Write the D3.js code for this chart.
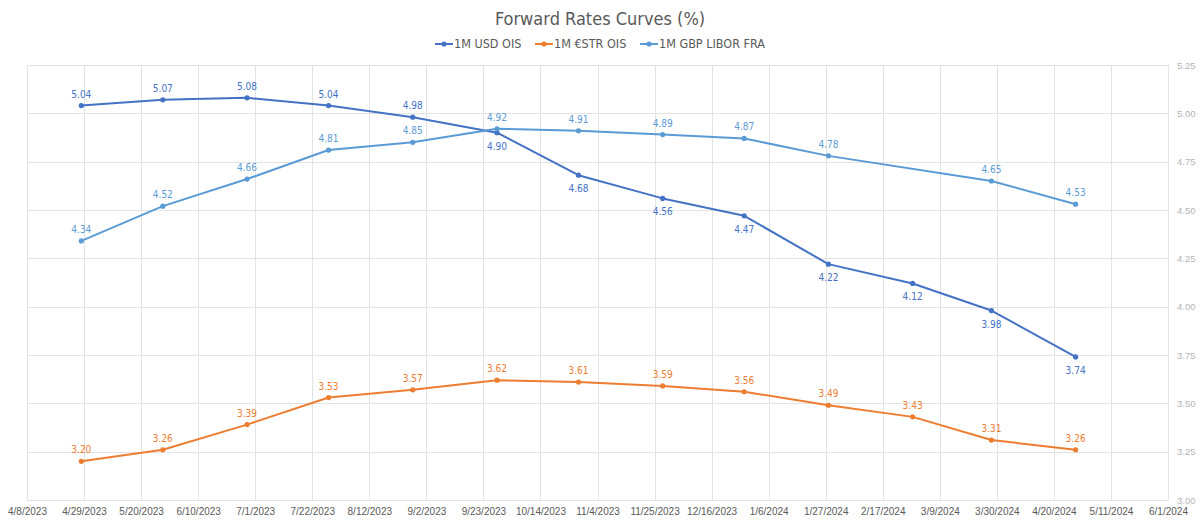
<!DOCTYPE html>
<html>
<head>
<meta charset="utf-8">
<script src="https://cdn.jsdelivr.net/npm/d3@7"></script>
<style>
  html, body { margin: 0; padding: 0; background: #fff; }
  svg { display: block; font-family: "DejaVu Sans Condensed", "Liberation Sans Narrow", Roboto, sans-serif; }
</style>
</head>
<body>
<div id="chart"></div>
<script>
// Forward rate curves, monthly points
const DATES = ["2023-04-28", "2023-05-28", "2023-06-28", "2023-07-28", "2023-08-28", "2023-09-28",
  "2023-10-28", "2023-11-28", "2023-12-28", "2024-01-28", "2024-02-28", "2024-03-28", "2024-04-28"];
const USD_OIS = [5.04, 5.07, 5.08, 5.04, 4.98, 4.90, 4.68, 4.56, 4.47, 4.22, 4.12, 3.98, 3.74];
const ESTR_OIS = [3.20, 3.26, 3.39, 3.53, 3.57, 3.62, 3.61, 3.59, 3.56, 3.49, 3.43, 3.31, 3.26];
// no GBP print for February
const GBP_FRA = [4.34, 4.52, 4.66, 4.81, 4.85, 4.92, 4.91, 4.89, 4.87, 4.78, null, 4.65, 4.53];
// USD labels go below the point from September onward
const USD_LABEL_BELOW = [false, false, false, false, false, true, true, true, true, true, true, true, true];
const Y_TICKS = [3.00, 3.25, 3.50, 3.75, 4.00, 4.25, 4.50, 4.75, 5.00, 5.25];

const W = 1200, H = 523;
const M = { left: 27, right: 32, top: 65, bottom: 23 };
const parse = d3.timeParse("%Y-%m-%d");

const series = [
  { name: "1M USD OIS", color: "#4472c4", values: USD_OIS, below: USD_LABEL_BELOW },
  { name: "1M €STR OIS", color: "#ed7d31", values: ESTR_OIS, below: null },
  { name: "1M GBP LIBOR FRA", color: "#5b9bd5", values: GBP_FRA, below: null },
];

const svg = d3.select("#chart").append("svg").attr("width", W).attr("height", H);

const x = d3.scaleTime()
  .domain([parse("2023-04-08"), parse("2024-06-01")])
  .range([M.left, W - M.right]);
const y = d3.scaleLinear().domain([3, 5.25]).range([H - M.bottom, M.top]);

// x ticks every 3 weeks starting at the domain start
const xTicks = d3.timeDay.every(1).range(x.domain()[0], d3.timeDay.offset(x.domain()[1], 1))
  .filter((d, i) => i % 21 === 0);

// grid
const grid = svg.append("g").attr("stroke", "#e3e3e3").attr("stroke-width", 1);
grid.selectAll("line.v").data(xTicks).enter().append("line")
  .attr("x1", (d) => Math.round(x(d)) + 0.5).attr("x2", (d) => Math.round(x(d)) + 0.5)
  .attr("y1", y(5.25)).attr("y2", y(3));
grid.selectAll("line.h").data(Y_TICKS).enter().append("line")
  .attr("x1", x.range()[0]).attr("x2", x.range()[1])
  .attr("y1", (d) => Math.round(y(d)) + 0.5).attr("y2", (d) => Math.round(y(d)) + 0.5);

// axes (text only, no domain line)
const fmtDate = (d) => `${d.getMonth() + 1}/${d.getDate()}/${d.getFullYear()}`;
const xAxis = svg.append("g").attr("transform", `translate(0,${H - M.bottom})`)
  .call(d3.axisBottom(x).tickValues(xTicks).tickFormat(fmtDate).tickSize(0).tickPadding(8));
xAxis.select(".domain").remove();
xAxis.selectAll("text").attr("fill", "#595959").style("font-size", "10px");

const yAxis = svg.append("g").attr("transform", `translate(${W - M.right},0)`)
  .call(d3.axisRight(y).tickValues(Y_TICKS).tickFormat(d3.format(".2f")).tickSize(0).tickPadding(9));
yAxis.select(".domain").remove();
yAxis.selectAll("text").attr("fill", "#b5b5b5").style("font-size", "9.5px");

// lines, markers, labels
series.forEach((s) => {
  const pts = DATES.map((d, i) => ({ date: parse(d), v: s.values[i], below: s.below ? s.below[i] : false }))
    .filter((p) => p.v != null);
  const line = d3.line().x((p) => x(p.date)).y((p) => y(p.v));
  const g = svg.append("g");
  g.append("path").datum(pts).attr("d", line).attr("fill", "none")
    .attr("stroke", s.color).attr("stroke-width", 2).attr("stroke-linejoin", "round");
  g.selectAll("circle").data(pts).enter().append("circle")
    .attr("cx", (p) => x(p.date)).attr("cy", (p) => y(p.v)).attr("r", 2.6).attr("fill", s.color);
  g.selectAll("text").data(pts).enter().append("text")
    .attr("x", (p) => x(p.date)).attr("y", (p) => y(p.v) + (p.below ? 17 : -8))
    .attr("text-anchor", "middle").attr("fill", s.color).style("font-size", "10px")
    .text((p) => p.v.toFixed(2));
});

// title
svg.append("text").attr("x", W / 2).attr("y", 25).attr("text-anchor", "middle")
  .attr("fill", "#595959").style("font-size", "18px").text("Forward Rates Curves (%)");

// legend
const legendX = [435, 535, 640];
const leg = svg.append("g").selectAll("g").data(series).enter().append("g")
  .attr("transform", (s, i) => `translate(${legendX[i]},44)`);
leg.append("line").attr("x1", 0).attr("x2", 18).attr("stroke", (s) => s.color).attr("stroke-width", 2);
leg.append("circle").attr("cx", 9).attr("r", 2.6).attr("fill", (s) => s.color);
leg.append("text").attr("x", 19).attr("dy", "0.35em").attr("fill", "#595959")
  .style("font-size", "12.5px").text((s) => s.name);
</script>
</body>
</html>
